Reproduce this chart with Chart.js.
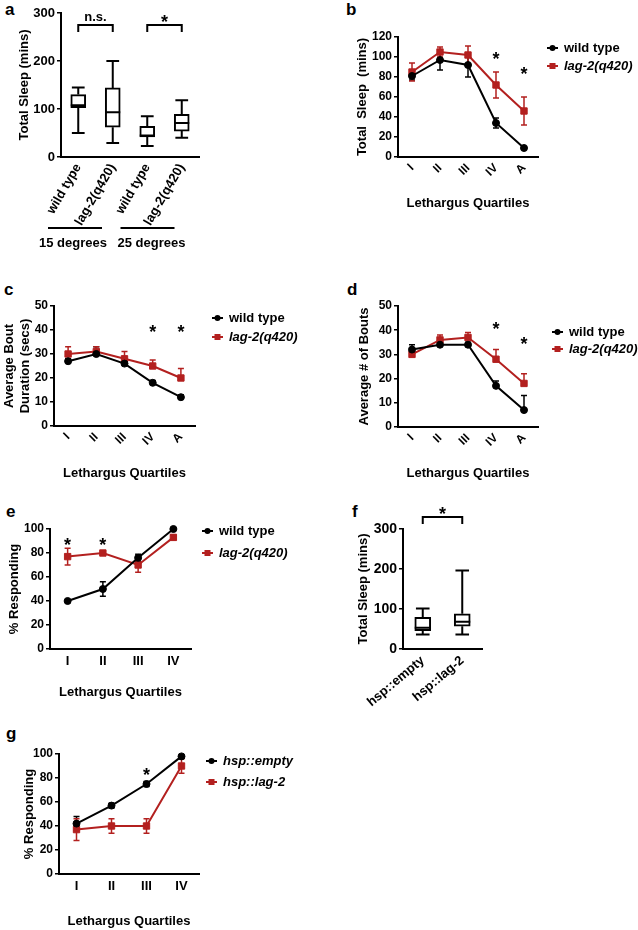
<!DOCTYPE html>
<html>
<head>
<meta charset="utf-8">
<script src="https://cdn.jsdelivr.net/npm/chart.js@4.4.1/dist/chart.umd.min.js"></script>
<style>
body { margin: 0; width: 638px; height: 930px; position: relative; background: #fff; overflow: hidden; }
canvas { position: absolute; }
.lbl { position: absolute; font: bold 17px "Liberation Sans", Arial, sans-serif; line-height: 17px; }
</style>
</head>
<body>
<div class="lbl" style="left:5px;top:1px">a</div>
<div class="lbl" style="left:346px;top:1px">b</div>
<div class="lbl" style="left:4px;top:281px">c</div>
<div class="lbl" style="left:347px;top:281px">d</div>
<div class="lbl" style="left:6px;top:503px">e</div>
<div class="lbl" style="left:352px;top:503px">f</div>
<div class="lbl" style="left:6px;top:725px">g</div>
<script>
const RED = '#b3201f';
const FONT = '"Liberation Sans", Arial, sans-serif';

const quartiles = ['I', 'II', 'III', 'IV', 'A'];
const quartiles4 = ['I', 'II', 'III', 'IV'];

// a - box plots
const aGroups = ['wild type', 'lag-2(q420)', 'wild type', 'lag-2(q420)'];
const aMin = [50, 29, 23, 40];
const aQ1 = [103, 62, 42, 54];
const aMedian = [108, 93, 45, 71];
const aQ3 = [130, 144, 64, 89];
const aMax = [145, 200, 85, 118];

// b - total sleep per quartile
const bWild = [81, 97, 92, 34, 9];
const bWildErr = [4, 10, 12, 5, 1];
const bLag = [85, 105, 102, 72, 46];
const bLagErr = [9, 5, 9, 13, 14];

// c - bout duration
const cWild = [27, 30, 26, 18, 12];
const cWildErr = [1, 3, 1, 1, 1];
const cLag = [30, 31, 28, 25, 20];
const cLagErr = [3, 2, 3, 2.5, 4];

// d - number of bouts
const dWild = [32, 34, 34, 17, 7];
const dWildErr = [2, 1, 1, 2, 6];
const dLag = [30, 36, 37, 28, 18];
const dLagErr = [1, 2, 2, 4, 4];

// e - % responding
const eWild = [40, 50, 76, 100];
const eWildErr = [0.5, 6, 3, 0.5];
const eLag = [77, 80, 70, 93];
const eLagErr = [7, 1, 6, 2];

// f - box plots
const fGroups = ['hsp::empty', 'hsp::lag-2'];
const fMin = [36, 36];
const fQ1 = [46, 57];
const fMedian = [53, 68];
const fQ3 = [79, 88];
const fMax = [101, 196];

// g - % responding
const gEmpty = [42, 57, 75, 98];
const gEmptyErr = [6, 2, 2, 1];
const gLag = [37, 40, 40, 90];
const gLagErr = [9, 6, 6, 6];

// significance stars [category index, value]
const bStars = [[3, 102], [4, 87]];
const cStars = [[3, 41], [4, 41]];
const dStars = [[3, 42], [4, 36]];
const eStars = [[0, 90], [1, 90]];
const gStars = [[2, 86]];

Chart.defaults.font.family = FONT;
Chart.defaults.font.weight = 'bold';
Chart.defaults.color = '#000';
Chart.defaults.plugins.legend.display = false;
Chart.defaults.plugins.tooltip.enabled = false;

const errorBars = {
  id: 'errorBars',
  beforeDatasetsDraw(chart) {
    const ctx = chart.ctx, y = chart.scales.y;
    chart.data.datasets.forEach((ds, k) => {
      if (!ds.err) return;
      ctx.save();
      ctx.strokeStyle = ds.borderColor;
      ctx.lineWidth = 1.5;
      chart.getDatasetMeta(k).data.forEach((pt, i) => {
        const top = y.getPixelForValue(ds.data[i] + ds.err[i]);
        const bot = ds.upOnly ? pt.y : y.getPixelForValue(ds.data[i] - ds.err[i]);
        ctx.beginPath();
        ctx.moveTo(pt.x, top); ctx.lineTo(pt.x, bot);
        ctx.moveTo(pt.x - 3, top); ctx.lineTo(pt.x + 3, top);
        if (!ds.upOnly) { ctx.moveTo(pt.x - 3, bot); ctx.lineTo(pt.x + 3, bot); }
        ctx.stroke();
      });
      ctx.restore();
    });
  }
};

const boxWhiskers = {
  id: 'boxWhiskers',
  afterDatasetsDraw(chart) {
    const ctx = chart.ctx, y = chart.scales.y;
    chart.data.datasets.forEach((ds, k) => {
      if (!ds.whisk) return;
      ctx.save();
      ctx.strokeStyle = '#000';
      ctx.lineWidth = 2;
      chart.getDatasetMeta(k).data.forEach((bar, i) => {
        const w = bar.width / 2, cw = w * 0.85;
        const lo = y.getPixelForValue(ds.whisk.min[i]);
        const hi = y.getPixelForValue(ds.whisk.max[i]);
        const q1 = y.getPixelForValue(ds.data[i][0]);
        const q3 = y.getPixelForValue(ds.data[i][1]);
        const md = y.getPixelForValue(ds.whisk.med[i]);
        ctx.beginPath();
        ctx.moveTo(bar.x, q3); ctx.lineTo(bar.x, hi);
        ctx.moveTo(bar.x - cw, hi); ctx.lineTo(bar.x + cw, hi);
        ctx.moveTo(bar.x, q1); ctx.lineTo(bar.x, lo);
        ctx.moveTo(bar.x - cw, lo); ctx.lineTo(bar.x + cw, lo);
        ctx.moveTo(bar.x - w, md); ctx.lineTo(bar.x + w, md);
        ctx.stroke();
      });
      ctx.restore();
    });
  }
};

const marks = {
  id: 'marks',
  afterDraw(chart, args, o) {
    const ctx = chart.ctx, x = chart.scales.x, y = chart.scales.y, area = chart.chartArea;
    ctx.save();
    ctx.fillStyle = '#000';
    ctx.strokeStyle = '#000';
    ctx.lineWidth = 2;
    ctx.textAlign = 'center';
    ctx.textBaseline = 'alphabetic';
    (o.stars || []).forEach(s => {
      ctx.font = 'bold 18px ' + FONT;
      ctx.fillText('*', x.getPixelForValue(s[0]), y.getPixelForValue(s[1]) + 10);
    });
    (o.brackets || []).forEach(b => {
      const x0 = x.getPixelForValue(b.i0), x1 = x.getPixelForValue(b.i1);
      const yy = y.getPixelForValue(b.v);
      ctx.beginPath();
      ctx.moveTo(x0, yy + 7); ctx.lineTo(x0, yy); ctx.lineTo(x1, yy); ctx.lineTo(x1, yy + 7);
      ctx.stroke();
      if (b.text === '*') {
        ctx.font = 'bold 18px ' + FONT;
        ctx.fillText('*', (x0 + x1) / 2, yy - 7 + 10);
      } else {
        ctx.font = 'bold 13px ' + FONT;
        ctx.fillText(b.text, (x0 + x1) / 2, yy - 4);
      }
    });
    (o.groups || []).forEach(g => {
      const c = (x.getPixelForValue(g.i0) + x.getPixelForValue(g.i1)) / 2 + g.dx;
      ctx.beginPath();
      ctx.moveTo(c - 27, area.bottom + 71); ctx.lineTo(c + 27, area.bottom + 71);
      ctx.stroke();
      ctx.font = 'bold 13px ' + FONT;
      ctx.textBaseline = 'middle';
      ctx.fillText(g.text, c + g.tx, area.bottom + 86);
    });
    if (o.legend) {
      ctx.textAlign = 'left';
      ctx.textBaseline = 'middle';
      chart.data.datasets.forEach((ds, k) => {
        const lx = area.right + o.legend.x, ly = area.top + o.legend.y + k * o.legend.row;
        ctx.strokeStyle = ds.borderColor;
        ctx.fillStyle = ds.borderColor;
        ctx.beginPath();
        ctx.moveTo(lx, ly); ctx.lineTo(lx + 11, ly);
        ctx.stroke();
        if (ds.pointStyle === 'rect') ctx.fillRect(lx + 2.5, ly - 3, 6, 6);
        else { ctx.beginPath(); ctx.arc(lx + 5.5, ly, 3, 0, Math.PI * 2); ctx.fill(); }
        ctx.fillStyle = '#000';
        ctx.font = (ds.italic ? 'italic ' : '') + 'bold 13px ' + FONT;
        ctx.fillText(ds.label, lx + 17, ly);
      });
    }
    ctx.restore();
  }
};

Chart.register(errorBars, boxWhiskers, marks);

function yAxis(max, step, title, pad, size) {
  return {
    min: 0, max: max,
    ticks: { stepSize: step, font: { size: size, weight: 'bold' }, color: '#000', padding: 2 },
    grid: { drawOnChartArea: false, color: '#000', lineWidth: 1.5, tickLength: 4 },
    border: { color: '#000', width: 2 },
    title: { display: true, text: title, color: '#000', font: { size: 13, weight: 'bold' }, padding: { top: pad, bottom: 0 } }
  };
}

function xAxis(labels, rot, title, pad, size, titlePad) {
  return {
    type: 'category', labels: labels, offset: true,
    ticks: { minRotation: rot, maxRotation: rot, autoSkip: false, padding: pad, font: { size: size, weight: 'bold' }, color: '#000' },
    grid: { drawOnChartArea: false, drawTicks: false },
    border: { color: '#000', width: 2 },
    title: { display: !!title, text: title || '', color: '#000', font: { size: 13, weight: 'bold' }, padding: { top: 0, bottom: titlePad || 4 } }
  };
}

function lineSet(label, data, err, color, style, italic, upOnly) {
  return {
    label: label, data: data, err: err, upOnly: upOnly, italic: italic,
    borderColor: color, backgroundColor: color, borderWidth: 2,
    pointStyle: style, pointRadius: style === 'rect' ? 4.5 : 3.5, pointBorderWidth: 1,
    clip: false
  };
}

function makeChart(box, area, config) {
  const cv = document.createElement('canvas');
  cv.width = box.w; cv.height = box.h;
  cv.style.left = box.x + 'px'; cv.style.top = box.y + 'px';
  document.body.appendChild(cv);
  const o = config.options;
  o.responsive = false;
  o.animation = false;
  o.layout = { padding: { left: 0, top: area.t - box.y, right: box.x + box.w - area.r, bottom: 0 } };
  o.scales.x.afterFit = s => { s.height = box.y + box.h - area.b; };
  o.scales.y.afterFit = s => { s.width = area.l - box.x; };
  return new Chart(cv, config);
}

// a
makeChart({ x: 0, y: 0, w: 215, h: 255 }, { l: 61, t: 13, r: 199, b: 157 }, {
  type: 'bar',
  data: {
    labels: aGroups,
    datasets: [{
      data: aQ1.map((q, i) => [q, aQ3[i]]),
      whisk: { min: aMin, med: aMedian, max: aMax },
      backgroundColor: '#fff', borderColor: '#000', borderWidth: 2, borderSkipped: false, barThickness: 15
    }]
  },
  options: {
    scales: { x: xAxis(aGroups, 60, null, 4, 13), y: yAxis(300, 100, 'Total Sleep (mins)', 17, 13) },
    plugins: { marks: {
      brackets: [{ i0: 0, i1: 1, v: 275, text: 'n.s.' }, { i0: 2, i1: 3, v: 275, text: '*' }],
      groups: [{ i0: 0, i1: 1, dx: -20.5, tx: -2, text: '15 degrees' }, { i0: 2, i1: 3, dx: -17, tx: 4, text: '25 degrees' }]
    } }
  }
});

// b
makeChart({ x: 320, y: 0, w: 318, h: 215 }, { l: 398, t: 37, r: 538, b: 157 }, {
  type: 'line',
  data: {
    labels: quartiles,
    datasets: [
      lineSet('wild type', bWild, bWildErr, '#000', 'circle', false, false),
      lineSet('lag-2(q420)', bLag, bLagErr, RED, 'rect', true, false)
    ]
  },
  options: {
    scales: { x: xAxis(quartiles, 45, 'Lethargus Quartiles', 4, 12), y: yAxis(120, 20, 'Total  Sleep  (mins)', 35, 12) },
    plugins: { marks: { stars: bStars, legend: { x: 9, y: 11, row: 18 } } }
  }
});

// c
makeChart({ x: 0, y: 280, w: 318, h: 205 }, { l: 54, t: 306, r: 195, b: 426 }, {
  type: 'line',
  data: {
    labels: quartiles,
    datasets: [
      lineSet('wild type', cWild, cWildErr, '#000', 'circle', false, true),
      lineSet('lag-2(q420)', cLag, cLagErr, RED, 'rect', true, true)
    ]
  },
  options: {
    scales: { x: xAxis(quartiles, 45, 'Lethargus Quartiles', 4, 12), y: yAxis(50, 10, ['Average Bout', 'Duration (secs)'], 2, 12) },
    plugins: { marks: { stars: cStars, legend: { x: 17, y: 12, row: 19 } } }
  }
});

// d
makeChart({ x: 320, y: 280, w: 318, h: 205 }, { l: 398, t: 306, r: 538, b: 427 }, {
  type: 'line',
  data: {
    labels: quartiles,
    datasets: [
      lineSet('wild type', dWild, dWildErr, '#000', 'circle', false, true),
      lineSet('lag-2(q420)', dLag, dLagErr, RED, 'rect', true, true)
    ]
  },
  options: {
    scales: { x: xAxis(quartiles, 45, 'Lethargus Quartiles', 4, 12), y: yAxis(50, 10, 'Average # of Bouts', 37, 12) },
    plugins: { marks: { stars: dStars, legend: { x: 14, y: 26, row: 17 } } }
  }
});

// e
makeChart({ x: 0, y: 500, w: 318, h: 204 }, { l: 50, t: 529, r: 191, b: 649 }, {
  type: 'line',
  data: {
    labels: quartiles4,
    datasets: [
      lineSet('wild type', eWild, eWildErr, '#000', 'circle', false, false),
      lineSet('lag-2(q420)', eLag, eLagErr, RED, 'rect', true, false)
    ]
  },
  options: {
    scales: { x: xAxis(quartiles4, 0, 'Lethargus Quartiles', 5, 13), y: yAxis(100, 20, '% Responding', 7, 12) },
    plugins: { marks: { stars: eStars, legend: { x: 11, y: 2, row: 22 } } }
  }
});

// f
makeChart({ x: 320, y: 500, w: 200, h: 215 }, { l: 403, t: 529, r: 482, b: 649 }, {
  type: 'bar',
  data: {
    labels: fGroups,
    datasets: [{
      data: fQ1.map((q, i) => [q, fQ3[i]]),
      whisk: { min: fMin, med: fMedian, max: fMax },
      backgroundColor: '#fff', borderColor: '#000', borderWidth: 2, borderSkipped: false, barThickness: 16
    }]
  },
  options: {
    scales: { x: xAxis(fGroups, 40, null, 4, 13), y: yAxis(300, 100, 'Total Sleep (mins)', 36, 14) },
    plugins: { marks: { brackets: [{ i0: 0, i1: 1, v: 330, text: '*' }] } }
  }
});

// g
makeChart({ x: 0, y: 700, w: 318, h: 230 }, { l: 59, t: 754, r: 199, b: 874 }, {
  type: 'line',
  data: {
    labels: quartiles4,
    datasets: [
      lineSet('hsp::empty', gEmpty, gEmptyErr, '#000', 'circle', true, false),
      lineSet('hsp::lag-2', gLag, gLagErr, RED, 'rect', true, false)
    ]
  },
  options: {
    scales: { x: xAxis(quartiles4, 0, 'Lethargus Quartiles', 5, 13, 1), y: yAxis(100, 20, '% Responding', 22, 12) },
    plugins: { marks: { stars: gStars, legend: { x: 7, y: 7, row: 21 } } }
  }
});
</script>
</body>
</html>
